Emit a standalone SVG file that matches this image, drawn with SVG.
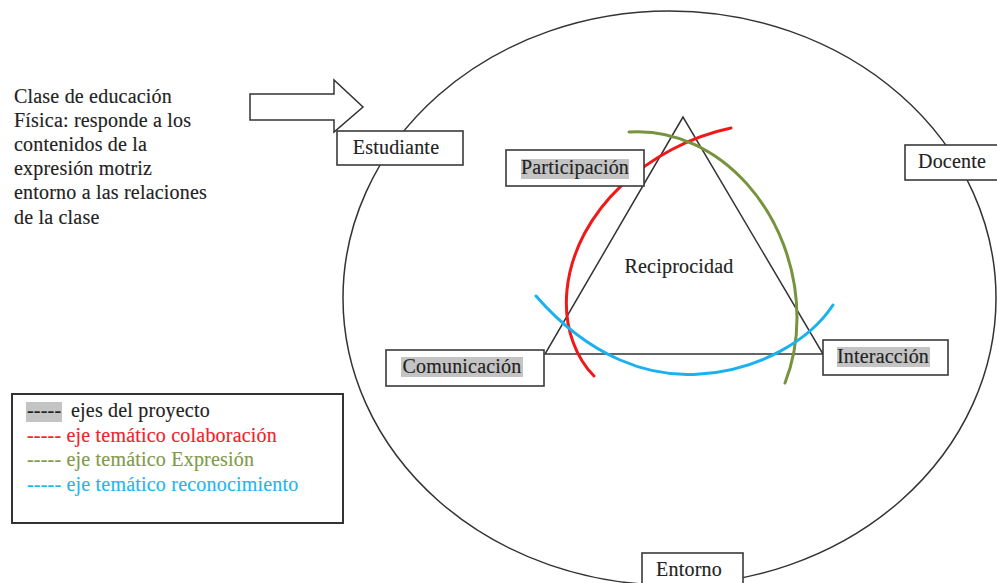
<svg xmlns="http://www.w3.org/2000/svg" width="997" height="583" viewBox="0 0 997 583">
<style>
text{font-family:"Liberation Serif","Times New Roman",serif;font-size:20px;fill:#222;letter-spacing:0.2px;stroke:#222;stroke-width:0.15}
.box{fill:#fff;stroke:#3a3a3a;stroke-width:1.6}
.hl{fill:#c4c4c4}
.line{fill:none;stroke:#333;stroke-width:1.5}
.arc{fill:none;stroke-width:3;stroke-linecap:round}
</style>
<rect width="997" height="583" fill="#fff"/>
<g id="intro">
<text x="14" y="103">Clase de educación</text>
<text x="14" y="127">Física: responde a los</text>
<text x="14" y="151">contenidos de la</text>
<text x="14" y="175">expresión motriz</text>
<text x="14" y="199">entorno a las relaciones</text>
<text x="14" y="224">de la clase</text>
</g>
<g id="arrow">
<path d="M250,94 H334 V80 L363,107 L334,132 V120 H250 Z" fill="#fff" stroke="#333" stroke-width="1.5"/>
</g>
<g id="entorno-circle">
<ellipse cx="669.5" cy="298" rx="326.5" ry="287" class="line"/>
</g>
<g id="connectors">
<path class="line" d="M683,117 L545,354 L823,354 Z"/>
<path class="arc" stroke="#f01818" d="M731,128 C650,145 575,210 567,290 C563,330 578,360 594,376"/>
<path class="arc" stroke="#77933c" d="M629,132 C720,126 797,215 797,318 C797,345 792,365 785,383"/>
<path class="arc" stroke="#1ab2ee" d="M536,296 C590,358 650,378 700,374 C760,370 810,340 833,305"/>
</g>
<g id="reciprocidad">
<text x="679" y="273" text-anchor="middle">Reciprocidad</text>
</g>
<g id="estudiante">
<rect class="box" x="337" y="131" width="126" height="34"/>
<text x="396" y="154" text-anchor="middle">Estudiante</text>
</g>
<g id="docente">
<rect class="box" x="905" y="145" width="100" height="35"/>
<text x="952" y="168" text-anchor="middle">Docente</text>
</g>
<g id="participacion">
<rect class="box" x="506" y="150" width="138" height="36"/>
<rect class="hl" x="521" y="159" width="108" height="20"/>
<text x="575" y="174" text-anchor="middle">Participación</text>
</g>
<g id="comunicacion">
<rect class="box" x="386" y="350" width="158" height="36"/>
<rect class="hl" x="401" y="357" width="122" height="20"/>
<text x="462" y="373" text-anchor="middle">Comunicación</text>
</g>
<g id="interaccion">
<rect class="box" x="823" y="340" width="125" height="35"/>
<rect class="hl" x="837" y="347" width="93" height="20"/>
<text x="883" y="363" text-anchor="middle">Interacción</text>
</g>
<g id="entorno">
<rect class="box" x="642" y="553" width="101" height="40"/>
<text x="689" y="576" text-anchor="middle">Entorno</text>
</g>
<g id="legend">
<rect x="12" y="394" width="331" height="129" fill="#fff" stroke="#333" stroke-width="2"/>
<rect class="hl" x="26" y="402" width="36" height="20"/>
<text x="27" y="417">-----</text>
<text x="71" y="417">ejes del proyecto</text>
<text x="27" y="442" style="fill:#f0222a;stroke:#f0222a">----- eje temático colaboración</text>
<text x="27" y="466" style="fill:#7f9a48;stroke:#7f9a48">----- eje temático Expresión</text>
<text x="27" y="491" style="fill:#1fb5f0;stroke:#1fb5f0">----- eje temático reconocimiento</text>
</g>
</svg>
